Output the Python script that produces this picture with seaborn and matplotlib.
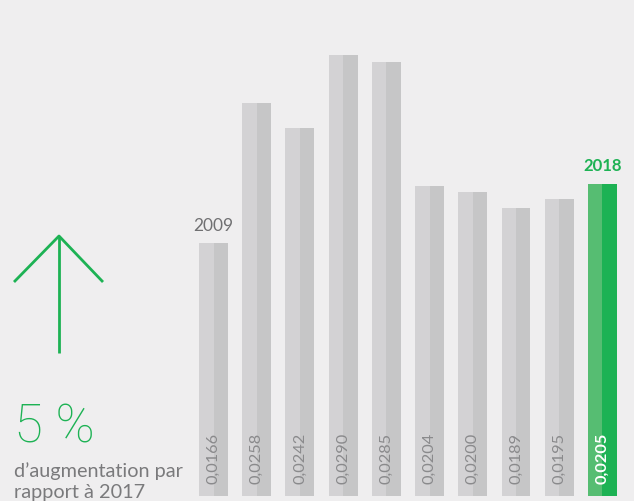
import matplotlib
matplotlib.use("Agg")
import matplotlib.pyplot as plt
from matplotlib.lines import Line2D
import seaborn as sns
import pandas as pd

# Data
years = ["2009", "2010", "2011", "2012", "2013", "2014", "2015", "2016", "2017", "2018"]
values = [0.0166, 0.0258, 0.0242, 0.0290, 0.0285, 0.0204, 0.0200, 0.0189, 0.0195, 0.0205]
headline = "5 %"
caption_lines = ["d’augmentation par", "rapport à 2017"]

# Colours
BG = "#efeeef"
GREY_LIGHT = "#d3d2d4"
GREY_DARK = "#c6c6c7"
GREEN_LIGHT = "#56bd72"
GREEN = "#1db254"
TEXT_GREY = "#8a8a8c"

sns.set_theme(style="white")
plt.rcParams["font.family"] = ["Lato", "DejaVu Sans"]

W, H = 634, 502
fig = plt.figure(figsize=(W / 100, H / 100), dpi=100, facecolor=BG)

def fx(px):
    return px / W

def fy(py):
    return 1 - py / H

# Each bar is drawn as two halves (light left, darker right)
df = pd.DataFrame({
    "year": years * 2,
    "value": values * 2,
    "half": ["a"] * len(years) + ["b"] * len(years),
})

ax = fig.add_axes([fx(190), fy(497), fx(634) - fx(190), 497 / H])
ax.set_facecolor(BG)
sns.barplot(data=df, x="year", y="value", hue="half", order=years,
            hue_order=["a", "b"], palette=[GREY_LIGHT, GREY_DARK],
            width=0.67, gap=0, dodge=True, legend=False,
            linewidth=0, edgecolor="none", saturation=1, ax=ax)

# Highlight the latest year
ax.containers[0][-1].set_facecolor(GREEN_LIGHT)
ax.containers[1][-1].set_facecolor(GREEN)

ax.set_xlim(-0.544, 9.73)
ax.set_ylim(0, 0.03266)
ax.set_axis_off()

# Value labels inside the bars
for i, v in enumerate(values):
    last = i == len(values) - 1
    ax.annotate(f"{v:.4f}".replace(".", ","), xy=(i, 0), xytext=(0, 13),
                textcoords="offset pixels", rotation=90, ha="center",
                va="bottom", fontsize=11.8,
                color="white" if last else TEXT_GREY,
                fontweight="bold" if last else "normal")

# Year labels above first and last bars
ax.annotate(years[0], xy=(0, values[0]), xytext=(0, 13),
            textcoords="offset pixels", ha="center", va="baseline",
            fontsize=12.5, color="#707072")
ax.annotate(years[-1], xy=(len(values) - 1, values[-1]), xytext=(0, 14),
            textcoords="offset pixels", ha="center", va="baseline",
            fontsize=12, color=GREEN, fontweight="bold")

# Upward arrow on the left
arrow_style = dict(color=GREEN, linewidth=2, solid_capstyle="butt",
                   transform=fig.transFigure)
fig.add_artist(Line2D([fx(59), fx(59)], [fy(237), fy(354)], **arrow_style))
fig.add_artist(Line2D([fx(14), fx(59), fx(103)], [fy(283), fy(237), fy(283)],
                      **arrow_style))

# Headline and caption
fig.text(fx(14), fy(443), headline, fontsize=38, fontweight="light",
         family=["Roboto", "DejaVu Sans"],
         color=GREEN, va="baseline", ha="left")
fig.text(fx(14), fy(477), caption_lines[0], fontsize=14.3, color="#7a7a7c",
         va="baseline", ha="left")
fig.text(fx(14), fy(498), caption_lines[1], fontsize=14.3, color="#7a7a7c",
         va="baseline", ha="left")

fig.savefig("out.png", dpi=100, facecolor=BG)
